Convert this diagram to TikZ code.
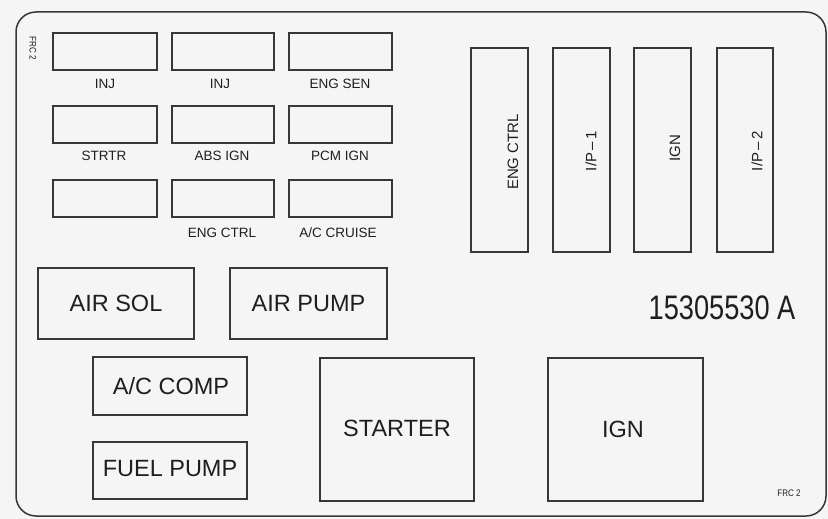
\documentclass[tikz,border=0pt]{standalone}
\usepackage{fontspec}
\usepackage{graphicx}
\setmainfont{Liberation Sans}
\definecolor{bg}{RGB}{245,245,245}
\definecolor{ln}{RGB}{55,55,55}
\definecolor{tx}{RGB}{30,30,30}
\begin{document}
\begin{tikzpicture}[x=1pt,y=-1pt,
  fusebox/.style={draw=ln,line width=1.7pt,rectangle,inner sep=0pt},
  relaybox/.style={draw=ln,line width=1.4pt,rectangle,inner sep=0pt},
  smalllab/.style={text=tx,inner sep=0pt,font=\fontsize{13.5}{15}\selectfont},
  vlab/.style={text=tx,inner sep=0pt,rotate=90,font=\fontsize{15}{17}\selectfont},
  biglab/.style={text=tx,inner sep=0pt,font=\fontsize{23.5}{27}\selectfont},
  tinylab/.style={text=tx,inner sep=0pt,font=\fontsize{9.5}{11}\selectfont}]
\fill[bg] (0,0) rectangle (828,519);
\useasboundingbox (0,0) rectangle (828,519);
% outer frame
\draw[ln,line width=1.5pt,rounded corners=20pt] (16,12) rectangle (826,516);
% small fuses
\foreach \c/\cx/\w in {1/105/104,2/223/102,3/340.5/103}{
  \foreach \r/\cy in {1/51.5,2/124.5,3/198.5}{
    \node[fusebox,minimum width=\w pt,minimum height=37pt] (f\r\c) at (\cx,\cy) {};
  }
}
\node[smalllab] (l11) at (105,84) {INJ};
\node[smalllab] (l12) at (220,84) {INJ};
\node[smalllab] (l13) at (340,84) {ENG SEN};
\node[smalllab] (l21) at (104,156) {STRTR};
\node[smalllab] (l22) at (222,156) {ABS IGN};
\node[smalllab] (l23) at (340,156) {PCM IGN};
\node[smalllab] (l32) at (222,233) {ENG CTRL};
\node[smalllab] (l33) at (338,233) {A/C CRUISE};
% vertical fuses
\node[fusebox,minimum width=57pt,minimum height=204pt] (v1) at (499.5,150) {};
\node[fusebox,minimum width=57pt,minimum height=204pt] (v2) at (581.5,150) {};
\node[fusebox,minimum width=57pt,minimum height=204pt] (v3) at (662.5,150) {};
\node[fusebox,minimum width=56pt,minimum height=204pt] (v4) at (745,150) {};
\node[vlab] (vl1) at (513,152) {ENG CTRL};
\node[vlab] (vl2) at (591,151) {I/P\,--\,1};
\node[vlab] (vl3) at (675,148) {IGN};
\node[vlab] (vl4) at (757,151) {I/P\,--\,2};
% relays
\node[relaybox,minimum width=156pt,minimum height=71pt] (airsol) at (116,303.5) {};
\node[biglab] at (airsol.center) {AIR SOL};
\node[relaybox,minimum width=157pt,minimum height=71pt] (airpump) at (308.5,303.5) {};
\node[biglab] at (airpump.center) {AIR PUMP};
\node[relaybox,minimum width=154pt,minimum height=58pt] (accomp) at (170,386) {};
\node[biglab] at (171,386) {A/C COMP};
\node[relaybox,minimum width=154pt,minimum height=57pt] (fuel) at (170,470.5) {};
\node[biglab] at (170,469) {FUEL PUMP};
\node[relaybox,minimum width=154pt,minimum height=143pt] (starter) at (397,429.5) {};
\node[biglab] at (397,428) {STARTER};
\node[relaybox,minimum width=155pt,minimum height=143pt] (ign) at (625.5,429.5) {};
\node[biglab] at (623,429) {IGN};
% part number
\node[text=tx,inner sep=0pt] (pn) at (722,307.5) {\scalebox{0.8}[1]{\fontsize{34}{36}\selectfont 15305530 A}};
% FRC 2 labels
\node[tinylab] (frc1) at (33,48) [rotate=-90] {\scalebox{0.85}[1]{FRC 2}};
\node[tinylab] (frc2) at (789,493) {\scalebox{0.85}[1]{FRC 2}};
\end{tikzpicture}
\end{document}
